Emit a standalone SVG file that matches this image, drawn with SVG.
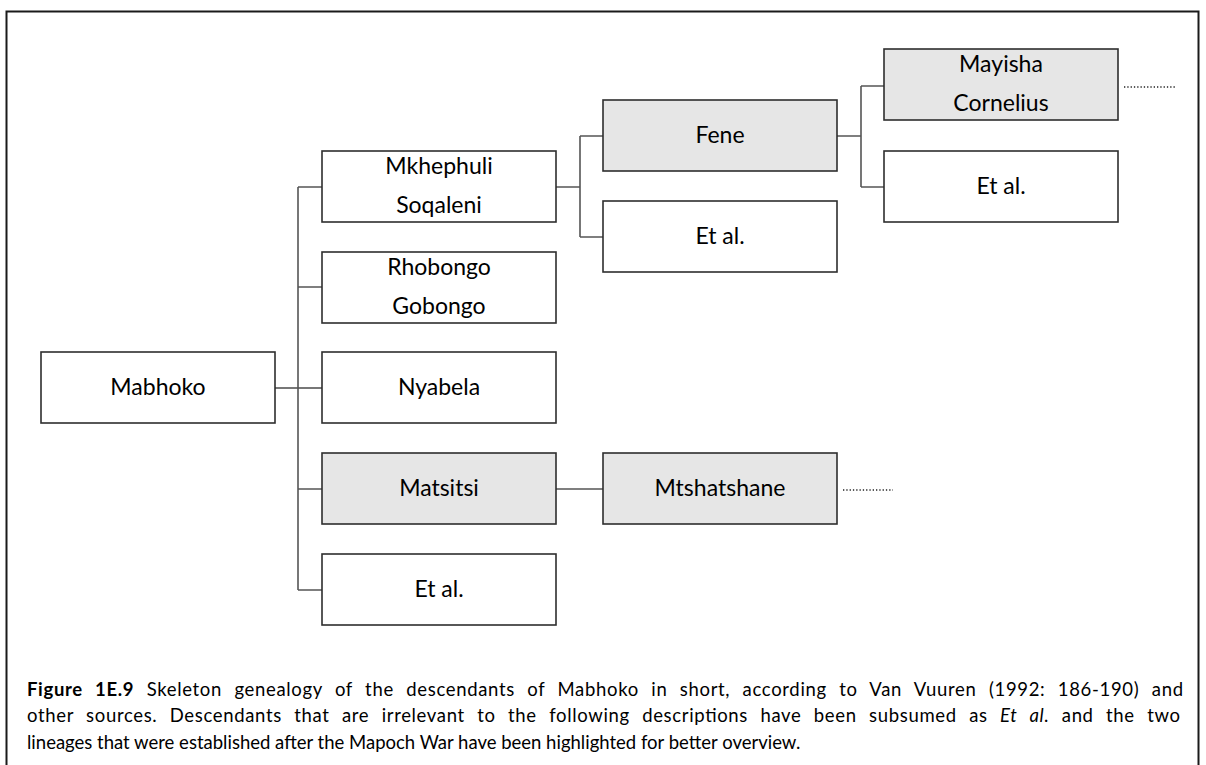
<svg xmlns="http://www.w3.org/2000/svg" width="1206" height="765" viewBox="0 0 1206 765">
  <style>
    .box { fill: #ffffff; stroke: #2e2e2e; stroke-width: 1.6; }
    .hl { fill: #e6e6e6; }
    .lbl { font-family: Lato, "Liberation Sans", sans-serif; font-size: 23px; fill: #000000; text-anchor: middle; }
    .link { fill: none; stroke: #555555; stroke-width: 1.6; }
    .more { fill: none; stroke: #222222; stroke-width: 1.7; stroke-dasharray: 1.3 2; }
    .cap { font-family: Lato, "Liberation Sans", sans-serif; font-size: 18.5px; fill: #000000; }
  </style>

  <!-- outer frame -->
  <rect x="6.5" y="11.5" width="1192" height="770" fill="#ffffff" stroke="#1a1a1a" stroke-width="2"/>

  <!-- connectors -->
  <g id="connectors">
    <!-- Mabhoko to children -->
    <path class="link" d="M298 388 H322"/>
    <path class="link" d="M275 388 H298" stroke="#333333" stroke-width="2"/>
    <path class="link" d="M298 187 V590"/>
    <path class="link" d="M298 187 H322 M298 287 H322 M298 489 H322 M298 590 H322"/>
    <!-- Mkhephuli Soqaleni to children -->
    <path class="link" d="M556 187 H580 M580 136 V237 M580 136 H603 M580 237 H603"/>
    <!-- Matsitsi to Mtshatshane -->
    <path class="link" d="M556 489 H603"/>
    <!-- Fene to children -->
    <path class="link" d="M837 136 H861 M861 86 V187 M861 86 H884 M861 187 H884"/>
    <!-- continuing lines -->
    <path class="more" d="M843 490 H893"/>
    <path class="more" d="M1124 87 H1175"/>
  </g>

  <g id="mabhoko">
    <rect class="box" x="41" y="352" width="234" height="71"/>
    <text class="lbl" x="158" y="395">Mabhoko</text>
  </g>

  <g id="mkhephuli-soqaleni">
    <rect class="box" x="322" y="151" width="234" height="71"/>
    <text class="lbl" x="439" y="174">Mkhephuli</text>
    <text class="lbl" x="439" y="213">Soqaleni</text>
  </g>

  <g id="rhobongo-gobongo">
    <rect class="box" x="322" y="252" width="234" height="71"/>
    <text class="lbl" x="439" y="275">Rhobongo</text>
    <text class="lbl" x="439" y="314">Gobongo</text>
  </g>

  <g id="nyabela">
    <rect class="box" x="322" y="352" width="234" height="71"/>
    <text class="lbl" x="439" y="395">Nyabela</text>
  </g>

  <g id="matsitsi">
    <rect class="box hl" x="322" y="453" width="234" height="71"/>
    <text class="lbl" x="439" y="496">Matsitsi</text>
  </g>

  <g id="et-al-1">
    <rect class="box" x="322" y="554" width="234" height="71"/>
    <text class="lbl" x="439" y="597">Et al.</text>
  </g>

  <g id="fene">
    <rect class="box hl" x="603" y="100" width="234" height="71"/>
    <text class="lbl" x="720" y="143">Fene</text>
  </g>

  <g id="et-al-2">
    <rect class="box" x="603" y="201" width="234" height="71"/>
    <text class="lbl" x="720" y="244">Et al.</text>
  </g>

  <g id="mtshatshane">
    <rect class="box hl" x="603" y="453" width="234" height="71"/>
    <text class="lbl" x="720" y="496">Mtshatshane</text>
  </g>

  <g id="mayisha-cornelius">
    <rect class="box hl" x="884" y="49" width="234" height="71"/>
    <text class="lbl" x="1001" y="72">Mayisha</text>
    <text class="lbl" x="1001" y="111">Cornelius</text>
  </g>

  <g id="et-al-3">
    <rect class="box" x="884" y="151" width="234" height="71"/>
    <text class="lbl" x="1001" y="194">Et al.</text>
  </g>

  <!-- caption, justified: full lines stretched to the right margin -->
  <g id="caption">
    <text class="cap" x="27" y="696" word-spacing="7" textLength="1156" lengthAdjust="spacing"><tspan font-weight="bold">Figure 1E.9</tspan> Skeleton genealogy of the descendants of Mabhoko in short, according to Van Vuuren (1992: 186-190) and</text>
    <text class="cap" x="27" y="722" word-spacing="7" textLength="1153" lengthAdjust="spacing">other sources. Descendants that are irrelevant to the following descriptions have been subsumed as <tspan font-style="italic">Et al.</tspan> and the two</text>
    <text class="cap" x="27" y="749">lineages that were established after the Mapoch War have been highlighted for better overview.</text>
  </g>
</svg>
